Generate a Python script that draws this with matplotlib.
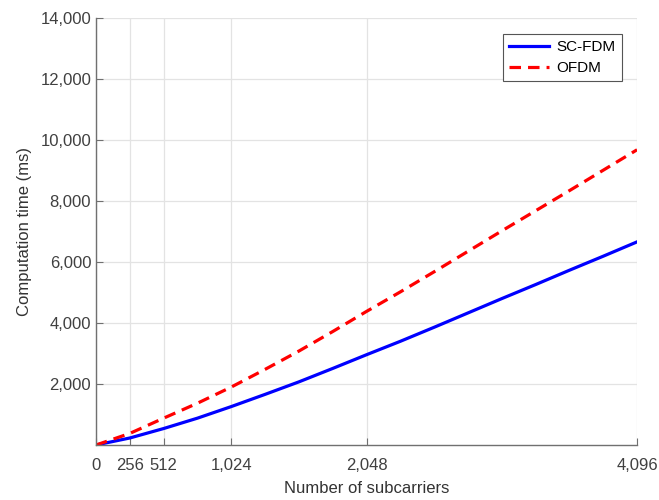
import matplotlib
matplotlib.use('Agg')
import matplotlib.pyplot as plt
from matplotlib.ticker import FuncFormatter

plt.rcParams['font.family'] = ['Liberation Sans', 'DejaVu Sans']

subcarriers = [0, 256, 512, 768, 1024, 1280, 1536, 1792, 2048, 2304, 2560, 2816, 3072, 3328, 3584, 3840, 4096]
scfdm_ms = [0, 230, 540, 880, 1260, 1660, 2070, 2510, 2960, 3400, 3860, 4330, 4800, 5260, 5730, 6190, 6660]
ofdm_ms = [0, 380, 880, 1370, 1900, 2480, 3080, 3720, 4380, 5020, 5680, 6350, 7020, 7680, 8340, 9010, 9680]

x_ticks = [0, 256, 512, 1024, 2048, 4096]
y_ticks = [2000, 4000, 6000, 8000, 10000, 12000, 14000]

fig = plt.figure(figsize=(6.59, 5.0), dpi=100)
ax = fig.add_axes([0.1457, 0.11, 0.821, 0.854])

ax.plot(subcarriers, scfdm_ms, color='#0000ff', lw=2.3, label='SC-FDM')
ax.plot(subcarriers, ofdm_ms, color='#ff0000', lw=2.3, ls=(0, (3.6, 2.2)), label='OFDM')

ax.set_xlim(0, 4096)
ax.set_ylim(0, 14000)
ax.set_xticks(x_ticks)
ax.set_yticks(y_ticks)
fmt = FuncFormatter(lambda v, p: f'{int(v):,}')
ax.xaxis.set_major_formatter(fmt)
ax.yaxis.set_major_formatter(fmt)

ax.grid(True, color='#e3e3e3', lw=0.9)
ax.set_axisbelow(True)
for s in ['top', 'right']:
    ax.spines[s].set_visible(False)
for s in ['left', 'bottom']:
    ax.spines[s].set_color('#707070')
    ax.spines[s].set_linewidth(1.0)
ax.tick_params(direction='in', length=5, colors='#707070', labelcolor='#404040', labelsize=12)
ax.tick_params(axis='x', pad=9)

ax.set_xlabel('Number of subcarriers', fontsize=12, color='#333333', labelpad=6)
ax.set_ylabel('Computation time (ms)', fontsize=12, color='#333333', labelpad=6)

leg = ax.legend(loc='upper right', bbox_to_anchor=(0.972, 0.9625), borderaxespad=0, fontsize=11,
                fancybox=False, framealpha=1, edgecolor='#555555', handlelength=2.6, borderpad=0.4,
                labelspacing=0.45, handletextpad=0.5)
leg.get_frame().set_linewidth(0.8)

fig.savefig('out.png', dpi=100)
